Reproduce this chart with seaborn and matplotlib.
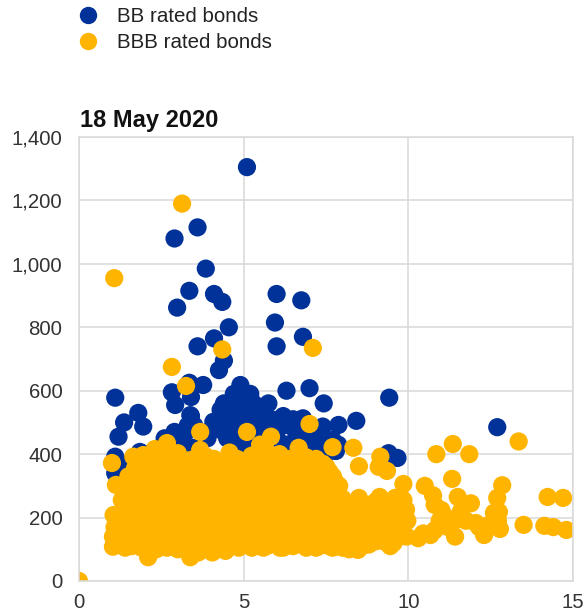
import pandas as pd
import seaborn as sns
from matplotlib import pyplot as plt

sns.set_style('white')
plt.rcParams['font.family'] = ['Liberation Sans', 'DejaVu Sans']

title = '18 May 2020'
series_names = ['BB rated bonds', 'BBB rated bonds']
x_ticks = [0, 5, 10, 15]
y_ticks = [0, 200, 400, 600, 800, 1000, 1200, 1400]

# one row per group of neighbouring bonds
bb_x = [5.1, 2.9, 3.6, 3.85, 3.35, 4.1, 4.35, 2.98, 6.0, 6.75,
        5.95, 4.55, 6.0, 6.8, 4.1, 3.6, 4.25, 4.4, 2.82, 3.35,
        3.77, 3.4, 2.92, 1.1, 7.0, 6.3, 9.42, 7.43, 5.75, 5.3,
        4.9, 4.75, 4.95, 4.65, 4.08, 4.3, 4.7, 5.9, 6.3, 6.2,
        3.38, 3.22, 2.87, 1.8, 1.37, 1.95, 1.2, 1.1, 1.85, 2.3,
        1.4, 1.1, 4.6, 6.8, 7.88, 7.4, 8.42, 7.7, 7.1, 7.87,
        9.4, 9.67, 12.7, 4.5, 5.1, 5.5, 6.6, 6.0, 5.4, 4.4,
        3.9, 4.9, 5.6, 6.5, 7.2, 7.5, 3.5, 2.6, 2.1, 1.6,
        4.6, 4.85, 5.05, 5.2, 4.5, 4.8, 5.1, 5.4, 4.2, 4.5,
        5.0, 5.6, 6.0, 6.5, 6.7, 7.0, 3.9, 3.5, 2.6, 6.2,
        6.9, 7.4, 7.8, 5.3, 3.1, 1.5, 1.2, 2.0, 4.4, 4.7,
        5.2, 5.6, 4.3, 3.4, 3.3, 2.9]
bb_y = [1305, 1080, 1115, 985, 915, 905, 880, 862, 905, 885,
        815, 800, 740, 770, 765, 740, 665, 695, 595, 625,
        618, 580, 555, 578, 608, 600, 578, 560, 560, 560,
        618, 570, 535, 533, 502, 476, 480, 508, 492, 432,
        523, 466, 460, 530, 500, 487, 455, 392, 407, 360,
        350, 340, 309, 513, 492, 487, 505, 445, 430, 430,
        403, 388, 485, 450, 500, 470, 460, 440, 420, 520,
        450, 430, 480, 430, 470, 400, 420, 370, 400, 345,
        560, 550, 575, 530, 510, 500, 490, 510, 500, 470,
        450, 450, 470, 510, 480, 470, 470, 490, 450, 520,
        450, 430, 410, 440, 440, 370, 365, 390, 560, 590,
        590, 545, 540, 520, 490, 470]

bbb_x = [0.0, 1.07, 3.13, 4.35, 7.1, 2.82, 3.25, 3.68, 5.1, 5.83,
         7.0, 1.0, 1.65, 1.95, 2.3, 2.67, 3.0, 3.68, 3.85, 4.57,
         5.5, 6.67, 7.7, 8.33, 8.5, 9.15, 9.1, 9.35, 1.12, 1.05,
         1.03, 1.03, 1.08, 1.2, 1.22, 1.18, 1.4, 1.38, 1.42, 1.4,
         1.39, 1.6, 1.62, 1.58, 1.6, 1.63, 1.8, 1.78, 1.82, 1.8,
         1.79, 2.0, 2.02, 1.98, 2.0, 2.03, 2.0, 2.1, 2.12, 2.25,
         2.27, 2.23, 2.25, 2.26, 2.45, 2.43, 2.47, 2.45, 2.44, 2.67,
         2.65, 2.69, 2.67, 2.66, 2.85, 2.87, 2.83, 2.85, 2.86, 2.84,
         3.0, 3.02, 2.98, 3.0, 3.01, 3.2, 3.22, 3.18, 3.2, 3.21,
         3.38, 3.36, 3.4, 3.38, 3.37, 3.39, 3.55, 3.57, 3.53, 3.55,
         3.56, 3.7, 3.72, 3.68, 3.7, 3.71, 3.85, 3.83, 3.87, 3.85,
         3.86, 4.05, 4.07, 4.03, 4.05, 4.06, 4.04, 4.25, 4.23, 4.27,
         4.25, 4.26, 4.45, 4.47, 4.43, 4.45, 4.46, 4.44, 4.65, 4.63,
         4.67, 4.65, 4.66, 4.85, 4.87, 4.83, 4.85, 4.86, 4.84, 5.05,
         5.03, 5.07, 5.05, 5.06, 5.25, 5.27, 5.23, 5.25, 5.26, 5.24,
         5.5, 5.48, 5.52, 5.5, 5.51, 5.7, 5.72, 5.68, 5.7, 5.71,
         5.69, 5.9, 5.88, 5.92, 5.9, 5.91, 6.1, 6.12, 6.08, 6.1,
         6.11, 6.09, 6.3, 6.28, 6.32, 6.3, 6.31, 6.5, 6.52, 6.48,
         6.5, 6.51, 6.49, 6.7, 6.68, 6.72, 6.7, 6.71, 6.9, 6.92,
         6.88, 6.9, 6.91, 7.1, 7.08, 7.12, 7.1, 7.11, 7.3, 7.32,
         7.28, 7.3, 7.31, 7.5, 7.48, 7.52, 7.5, 7.51, 7.7, 7.72,
         7.68, 7.7, 7.71, 7.9, 7.88, 7.92, 7.9, 8.1, 8.12, 8.08,
         8.3, 8.28, 8.32, 8.47, 8.45, 8.49, 8.5, 8.7, 8.72, 8.68,
         8.9, 8.88, 8.92, 9.15, 9.17, 9.13, 9.4, 9.38, 9.42, 9.55,
         9.53, 9.57, 9.6, 9.75, 9.73, 9.77, 9.85, 9.95, 9.97, 9.93,
         10.3, 10.5, 10.67, 10.75, 10.85, 10.95, 11.0, 11.33, 11.35, 11.4,
         11.42, 11.5, 11.6, 11.85, 11.9, 12.05, 12.3, 12.7, 12.72, 12.75,
         12.78, 12.85, 13.35, 13.5, 14.13, 14.23, 14.4, 14.7, 14.8]
bbb_y = [0, 955, 1190, 730, 735, 675, 615, 470, 470, 455,
         495, 372, 392, 397, 416, 435, 403, 413, 393, 405,
         430, 420, 422, 420, 362, 392, 360, 347, 303, 208,
         140, 108, 170, 115, 150, 190, 105, 135, 175, 225,
         290, 110, 150, 200, 260, 310, 120, 165, 215, 280,
         340, 105, 140, 185, 240, 300, 365, 75, 125, 110,
         160, 210, 270, 330, 130, 180, 235, 295, 350, 105,
         150, 205, 260, 320, 120, 170, 225, 285, 345, 390,
         100, 145, 195, 250, 310, 115, 165, 215, 275, 335,
         75, 130, 185, 240, 300, 360, 105, 155, 210, 265,
         325, 125, 175, 230, 290, 350, 100, 150, 200, 255,
         315, 90, 130, 180, 235, 295, 355, 110, 160, 215,
         275, 335, 95, 140, 190, 245, 305, 370, 120, 170,
         225, 285, 345, 105, 150, 200, 260, 320, 380, 125,
         180, 235, 295, 355, 105, 155, 210, 270, 330, 395,
         130, 185, 240, 300, 360, 110, 160, 215, 275, 335,
         410, 135, 190, 245, 305, 365, 105, 165, 220, 280,
         340, 400, 125, 180, 235, 295, 355, 110, 150, 205,
         260, 320, 385, 125, 180, 240, 300, 360, 105, 160,
         215, 275, 335, 130, 190, 250, 310, 370, 110, 165,
         225, 285, 345, 120, 180, 240, 300, 360, 105, 155,
         210, 270, 330, 125, 175, 235, 300, 115, 160, 205,
         130, 175, 215, 98, 145, 190, 262, 125, 165, 210,
         135, 180, 225, 150, 195, 265, 135, 175, 215, 120,
         165, 205, 262, 145, 190, 235, 306, 140, 190, 225,
         135, 300, 145, 270, 400, 190, 224, 322, 432, 190,
         140, 265, 220, 400, 245, 183, 145, 262, 190, 218,
         164, 302, 440, 177, 174, 265, 170, 262, 161]

# second pass over the solid part of the cloud
bbb_fill_x = [1.3, 1.3, 1.3, 1.5, 1.5, 1.5, 1.5, 1.7, 1.7, 1.7,
              1.7, 1.7, 1.9, 1.9, 1.9, 1.9, 1.9, 2.15, 2.15, 2.15,
              2.15, 2.15, 2.35, 2.35, 2.35, 2.35, 2.35, 2.55, 2.55, 2.55,
              2.55, 2.55, 2.75, 2.75, 2.75, 2.75, 2.75, 2.95, 2.95, 2.95,
              2.95, 2.95, 3.1, 3.1, 3.1, 3.1, 3.3, 3.3, 3.3, 3.3,
              3.3, 3.3, 3.45, 3.45, 3.45, 3.45, 3.62, 3.62, 3.62, 3.62,
              3.62, 3.78, 3.78, 3.78, 3.78, 3.78, 3.95, 3.95, 3.95, 3.95,
              4.15, 4.15, 4.15, 4.15, 4.15, 4.35, 4.35, 4.35, 4.35, 4.35,
              4.55, 4.55, 4.55, 4.55, 4.55, 4.75, 4.75, 4.75, 4.75, 4.75,
              4.95, 4.95, 4.95, 4.95, 4.95, 5.15, 5.15, 5.15, 5.15, 5.15,
              5.35, 5.35, 5.35, 5.35, 5.35, 5.6, 5.6, 5.6, 5.6, 5.6,
              5.8, 5.8, 5.8, 5.8, 5.8, 6.0, 6.0, 6.0, 6.0, 6.0,
              6.2, 6.2, 6.2, 6.2, 6.2, 6.4, 6.4, 6.4, 6.4, 6.4,
              6.6, 6.6, 6.6, 6.6, 6.6, 6.8, 6.8, 6.8, 6.8, 6.8,
              7.0, 7.0, 7.0, 7.0, 7.0, 7.2, 7.2, 7.2, 7.2, 7.2,
              7.4, 7.4, 7.4, 7.4, 7.6, 7.6, 7.6, 7.6, 7.6, 7.8,
              7.8, 7.8, 7.8, 8.0, 8.0, 8.0, 8.0, 8.2, 8.2, 8.2,
              8.2, 8.4, 8.4, 8.4, 8.6, 8.6, 8.6, 8.6, 8.8, 8.8,
              8.8, 8.8, 9.0, 9.0, 9.0, 9.0, 9.25, 9.25, 9.25, 9.25,
              9.45, 9.45, 9.45, 9.45, 9.65, 9.65, 9.65, 9.85, 9.85, 9.85,
              10.45, 10.8, 11.1, 10.8, 11.2, 11.75, 12.15, 12.4, 12.6, 2.5,
              2.9, 3.5, 4.1, 4.8, 5.3, 5.55, 5.95, 6.3, 6.6, 6.9,
              7.2, 7.4, 7.6, 3.75]
bbb_fill_y = [125, 205, 255, 120, 160, 240, 330, 130, 185, 240,
              300, 355, 105, 150, 200, 260, 320, 150, 195, 250,
              310, 375, 100, 145, 195, 250, 310, 115, 165, 220,
              280, 340, 135, 190, 245, 305, 365, 110, 160, 210,
              270, 330, 130, 180, 235, 295, 100, 150, 200, 260,
              320, 380, 120, 170, 225, 285, 90, 140, 190, 250,
              310, 115, 165, 215, 275, 335, 130, 185, 245, 305,
              100, 150, 200, 255, 315, 125, 175, 230, 290, 350,
              110, 155, 210, 265, 325, 135, 185, 240, 300, 360,
              115, 165, 215, 280, 340, 140, 195, 250, 310, 370,
              120, 175, 225, 285, 345, 105, 145, 200, 255, 315,
              120, 175, 230, 290, 350, 115, 150, 205, 260, 320,
              105, 140, 195, 250, 310, 115, 165, 220, 275, 335,
              135, 190, 250, 310, 370, 115, 150, 205, 260, 320,
              125, 175, 230, 290, 350, 105, 145, 205, 265, 325,
              130, 195, 255, 315, 110, 150, 210, 265, 320, 130,
              190, 250, 310, 105, 145, 190, 260, 100, 150, 195,
              235, 120, 165, 205, 110, 150, 190, 235, 115, 155,
              195, 235, 125, 165, 210, 250, 125, 170, 215, 250,
              110, 150, 195, 240, 135, 180, 225, 150, 205, 255,
              150, 160, 205, 240, 170, 190, 170, 175, 215, 385,
              375, 385, 385, 385, 395, 395, 385, 385, 395, 390,
              385, 370, 345, 375]

bb = pd.DataFrame({'maturity': bb_x, 'spread': bb_y, 'rating': series_names[0]})
bbb = pd.DataFrame({'maturity': bbb_x + bbb_fill_x, 'spread': bbb_y + bbb_fill_y, 'rating': series_names[1]})
bonds = pd.concat([bb, bbb], ignore_index=True)

fig = plt.figure(figsize=(5.87, 6.15), dpi=100)
ax = fig.add_axes([79 / 587, 1 - 581 / 615, 494 / 587, 444 / 615])
sns.scatterplot(x='maturity', y='spread', hue='rating', data=bonds, ax=ax,
                palette=['#003299', '#ffb400'], s=172, linewidth=0, alpha=1)

ax.set_xlim(0, 15)
ax.set_ylim(0, 1400)
ax.set_xticks(x_ticks)
ax.set_yticks(y_ticks)
ax.set_yticklabels([f'{v:,}' for v in y_ticks])
ax.set_xlabel('')
ax.set_ylabel('')
ax.grid(True, color='#d9d9d9', linewidth=1.1)
ax.set_axisbelow(True)
ax.tick_params(length=0, labelsize=14.7, labelcolor='#333333')
ax.tick_params(axis='y', pad=12)
ax.tick_params(axis='x', pad=9)
for label in ax.get_yticklabels():
    label.set_va('center_baseline')
for side in ax.spines.values():
    side.set_color('#d9d9d9')
    side.set_linewidth(1.1)

ax.text(0.003, 1.012, title, transform=ax.transAxes, fontsize=17, fontweight='bold',
        color='#111111', va='bottom')

handles, labels = ax.get_legend_handles_labels()
for h in handles:
    h.set_markersize(12.5)
ax.legend(handles, labels, loc='upper left', bbox_to_anchor=(53 / 587, 1 + 7 / 615),
          bbox_transform=fig.transFigure, frameon=False, fontsize=14.8,
          handletextpad=0.4, labelspacing=0.33, borderpad=0.2, labelcolor='#222222')

fig.savefig('out.png', dpi=100)
